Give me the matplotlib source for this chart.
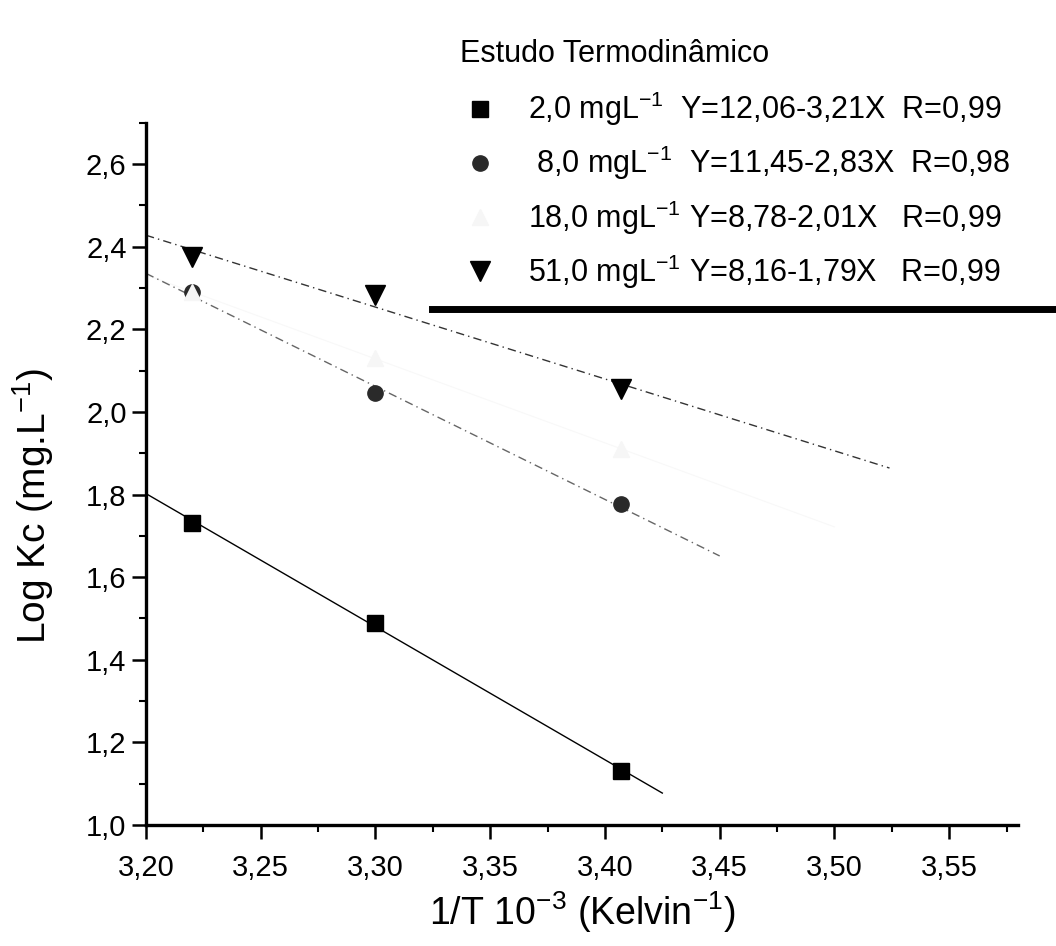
import numpy as np
import matplotlib
matplotlib.use("Agg")
import matplotlib.pyplot as plt
from matplotlib.lines import Line2D
from matplotlib.ticker import FixedLocator, FixedFormatter, MultipleLocator

plt.rcParams['font.family'] = ['Liberation Sans', 'DejaVu Sans']
plt.rcParams['mathtext.fontset'] = 'custom'
plt.rcParams['mathtext.rm'] = 'Liberation Sans'
plt.rcParams['mathtext.it'] = 'Liberation Sans'
plt.rcParams['mathtext.bf'] = 'Liberation Sans:bold'

# ---- data ----
inv_T = [3.22, 3.30, 3.407]
logkc_2 = [1.732, 1.490, 1.131]
logkc_8 = [2.29, 2.045, 1.776]
logkc_18 = [2.29, 2.13, 1.91]
logkc_51 = [2.376, 2.283, 2.055]

fit_end_2 = 3.425
fit_end_8 = 3.45
fit_end_18 = 3.50
fit_end_51 = 3.524

labels = ["2,0 mgL$^{-1}$  Y=12,06-3,21X  R=0,99",
          " 8,0 mgL$^{-1}$  Y=11,45-2,83X  R=0,98",
          "18,0 mgL$^{-1}$ Y=8,78-2,01X   R=0,99",
          "51,0 mgL$^{-1}$ Y=8,16-1,79X   R=0,99"]
legend_title = "Estudo Termodinâmico"

xticks = [3.20, 3.25, 3.30, 3.35, 3.40, 3.45, 3.50, 3.55]
xticklabels = ["3,20", "3,25", "3,30", "3,35", "3,40", "3,45", "3,50", "3,55"]
yticks = [1.0, 1.2, 1.4, 1.6, 1.8, 2.0, 2.2, 2.4, 2.6]
yticklabels = ["1,0", "1,2", "1,4", "1,6", "1,8", "2,0", "2,2", "2,4", "2,6"]

# ---- figure ----
W, H = 1056, 946
fig = plt.figure(figsize=(W / 100, H / 100), dpi=100)
ax = fig.add_axes([146 / W, 1 - 825 / H, (1018 - 146) / W, (825 - 122.7) / H])

xmin, xmax = 3.20, 3.58
ymin, ymax = 1.0, 2.70
ax.set_xlim(xmin, xmax)
ax.set_ylim(ymin, ymax)


def fit_line(x, y, x_end, **kw):
    p = np.polyfit(x, y, 1)
    xs = np.array([xmin, x_end])
    ax.plot(xs, np.polyval(p, xs), **kw)


fit_line(inv_T, logkc_2, fit_end_2, color='black', lw=1.0, ls='-', zorder=2)
fit_line(inv_T, logkc_8, fit_end_8, color='#666666', lw=1.0, ls=(0, (6, 3, 1, 3)), zorder=2)
fit_line(inv_T, logkc_18, fit_end_18, color='#f8f8f8', lw=0.8, ls='-', zorder=1)
fit_line(inv_T, logkc_51, fit_end_51, color='#333333', lw=1.0, ls=(0, (6, 3, 1, 3)), zorder=2)

h2, = ax.plot(inv_T, logkc_2, ls='none', marker='s', ms=11, color='black', zorder=3)
h8, = ax.plot(inv_T, logkc_8, ls='none', marker='o', ms=11, color='#2a2a2a', zorder=3)
h18, = ax.plot(inv_T, logkc_18, ls='none', marker='^', ms=11, color='#f6f6f6', zorder=3)
h51, = ax.plot(inv_T, logkc_51, ls='none', marker='v', ms=14, color='black', zorder=3)

for side in ['top', 'right']:
    ax.spines[side].set_visible(False)
for side in ['left', 'bottom']:
    ax.spines[side].set_linewidth(2.4)

ax.xaxis.set_major_locator(FixedLocator(xticks))
ax.xaxis.set_major_formatter(FixedFormatter(xticklabels))
ax.xaxis.set_minor_locator(MultipleLocator(0.025))
ax.yaxis.set_major_locator(FixedLocator(yticks))
ax.yaxis.set_major_formatter(FixedFormatter(yticklabels))
ax.yaxis.set_minor_locator(MultipleLocator(0.1))
ax.tick_params(which='major', direction='out', length=10, width=1.8, labelsize=21)
ax.tick_params(axis='x', which='major', pad=11)
ax.tick_params(axis='y', which='major', pad=4)
ax.tick_params(which='minor', direction='out', length=5, width=1.5)

ax.set_xlabel("1/T 10$^{-3}$ (Kelvin$^{-1}$)", fontsize=27, labelpad=5)
ax.set_ylabel("Log Kc (mg.L$^{-1}$)", fontsize=28)
ax.yaxis.set_label_coords(-0.103, 0.455)

leg = ax.legend([h2, h8, h18, h51], labels, title=legend_title,
                loc='upper left', bbox_to_anchor=(451 / W, 1 - 30 / H),
                bbox_transform=fig.transFigure, frameon=True, fancybox=False,
                fontsize=22, title_fontsize=22, alignment='left',
                handlelength=1.31, handletextpad=0.9, labelspacing=0.52,
                borderpad=0.3, borderaxespad=0)
leg._legend_box.sep = 15
leg.get_frame().set_facecolor('white')
leg.get_frame().set_edgecolor('none')
leg.set_zorder(5)

fig.add_artist(Line2D([432 / W, 1.0], [1 - 309 / H, 1 - 309 / H],
                      transform=fig.transFigure, color='black', lw=5, zorder=6))

fig.savefig("out.png", dpi=100, facecolor='white')
